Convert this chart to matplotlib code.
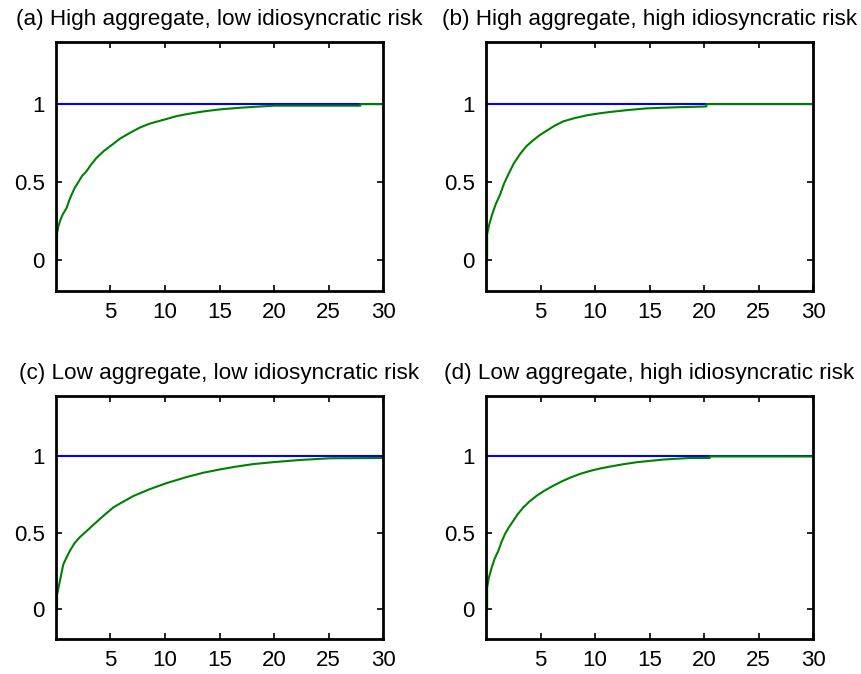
import numpy as np
import matplotlib
matplotlib.use("Agg")
import matplotlib.pyplot as plt

plt.rcParams['font.family'] = ['Liberation Sans', 'DejaVu Sans']

titles = ["(a) High aggregate, low idiosyncratic risk",
          "(b) High aggregate, high idiosyncratic risk",
          "(c) Low aggregate, low idiosyncratic risk",
          "(d) Low aggregate, high idiosyncratic risk"]

# green curves (x, y)
xa = [0.1, 0.1, 0.2, 0.37, 0.6, 0.98, 1.2, 1.44, 1.7, 2.05, 2.4, 2.81, 3.2, 3.73, 4.4, 5.1, 5.9, 6.79,
      7.7, 8.6, 10.15, 11.0, 12.0, 13.5, 15.0, 16.9, 18.5, 20.0, 27.9, 27.9, 30]
ya = [0, 0.17, 0.21, 0.25, 0.29, 0.335, 0.38, 0.42, 0.46, 0.50, 0.54, 0.57, 0.61, 0.656, 0.70, 0.737, 0.78, 0.816,
      0.85, 0.875, 0.905, 0.922, 0.936, 0.953, 0.966, 0.977, 0.984, 0.99, 0.99, 1.0, 1.0]

xb = [0.1, 0.1, 0.3, 0.55, 0.9, 1.29, 1.65, 2.05, 2.55, 3.12, 3.7, 4.35, 5.0, 5.57, 6.3, 7.1, 8.1, 9.23,
      10.3, 11.4, 13.0, 14.74, 17.5, 20.2, 20.2, 30]
yb = [0, 0.165, 0.23, 0.29, 0.36, 0.42, 0.49, 0.55, 0.62, 0.68, 0.73, 0.77, 0.805, 0.83, 0.862, 0.89, 0.91, 0.928,
      0.94, 0.95, 0.962, 0.973, 0.98, 0.985, 1.0, 1.0]

xc = [0.1, 0.1, 0.3, 0.67, 1.0, 1.28, 1.7, 2.2, 2.97, 3.5, 4.04, 4.6, 5.26, 6.1, 7.1, 8.6, 10.15, 12.0,
      13.5, 15.05, 16.5, 18.1, 20.0, 22.4, 25.1, 30]
yc = [0, 0.09, 0.16, 0.29, 0.34, 0.38, 0.43, 0.47, 0.52, 0.555, 0.59, 0.625, 0.665, 0.70, 0.74, 0.785, 0.825, 0.865,
      0.893, 0.915, 0.933, 0.95, 0.963, 0.977, 0.988, 0.99]

xd = [0.1, 0.1, 0.25, 0.52, 0.8, 1.13, 1.4, 1.74, 2.1, 2.5, 2.9, 3.42, 4.0, 4.65, 5.4, 6.18, 7.0, 7.7, 8.6,
      9.54, 10.4, 11.4, 12.5, 13.8, 16.3, 18.7, 20.5, 20.5, 30]
yd = [0, 0.137, 0.2, 0.27, 0.33, 0.38, 0.435, 0.49, 0.535, 0.577, 0.62, 0.665, 0.705, 0.742, 0.777, 0.808, 0.838, 0.86, 0.885,
      0.905, 0.92, 0.934, 0.948, 0.962, 0.98, 0.99, 0.99, 1.0, 1.0]

curves = [(xa, ya), (xb, yb), (xc, yc), (xd, yd)]
level = 1.0

fig = plt.figure(figsize=(8.61, 6.74), dpi=100)
# axes boxes in figure fractions (left, bottom, width, height)
boxes = [(0.065, 0.568, 0.380, 0.370),
         (0.5645, 0.568, 0.380, 0.370),
         (0.065, 0.052, 0.380, 0.361),
         (0.5645, 0.052, 0.380, 0.361)]

for box, title, (x, y) in zip(boxes, titles, curves):
    ax = fig.add_axes(box)
    ax.plot([0, 30], [level, level], color=(0, 0, 1), lw=1.5)
    ax.plot(x, y, color=(0, 0.5, 0), lw=1.5)
    ax.set_xlim(0, 30)
    ax.set_ylim(-0.2, 1.4)
    ax.set_xticks([5, 10, 15, 20, 25, 30])
    ax.set_yticks([0, 0.5, 1])
    ax.set_yticklabels(["0", "0.5", "1"])
    ax.tick_params(direction='in', length=4, width=1.2, labelsize=16,
                   top=True, right=True, pad=8)
    for s in ax.spines.values():
        s.set_linewidth(2)
    ax.set_title(title, fontsize=16.2, pad=12)

fig.savefig("out.png", dpi=100)
